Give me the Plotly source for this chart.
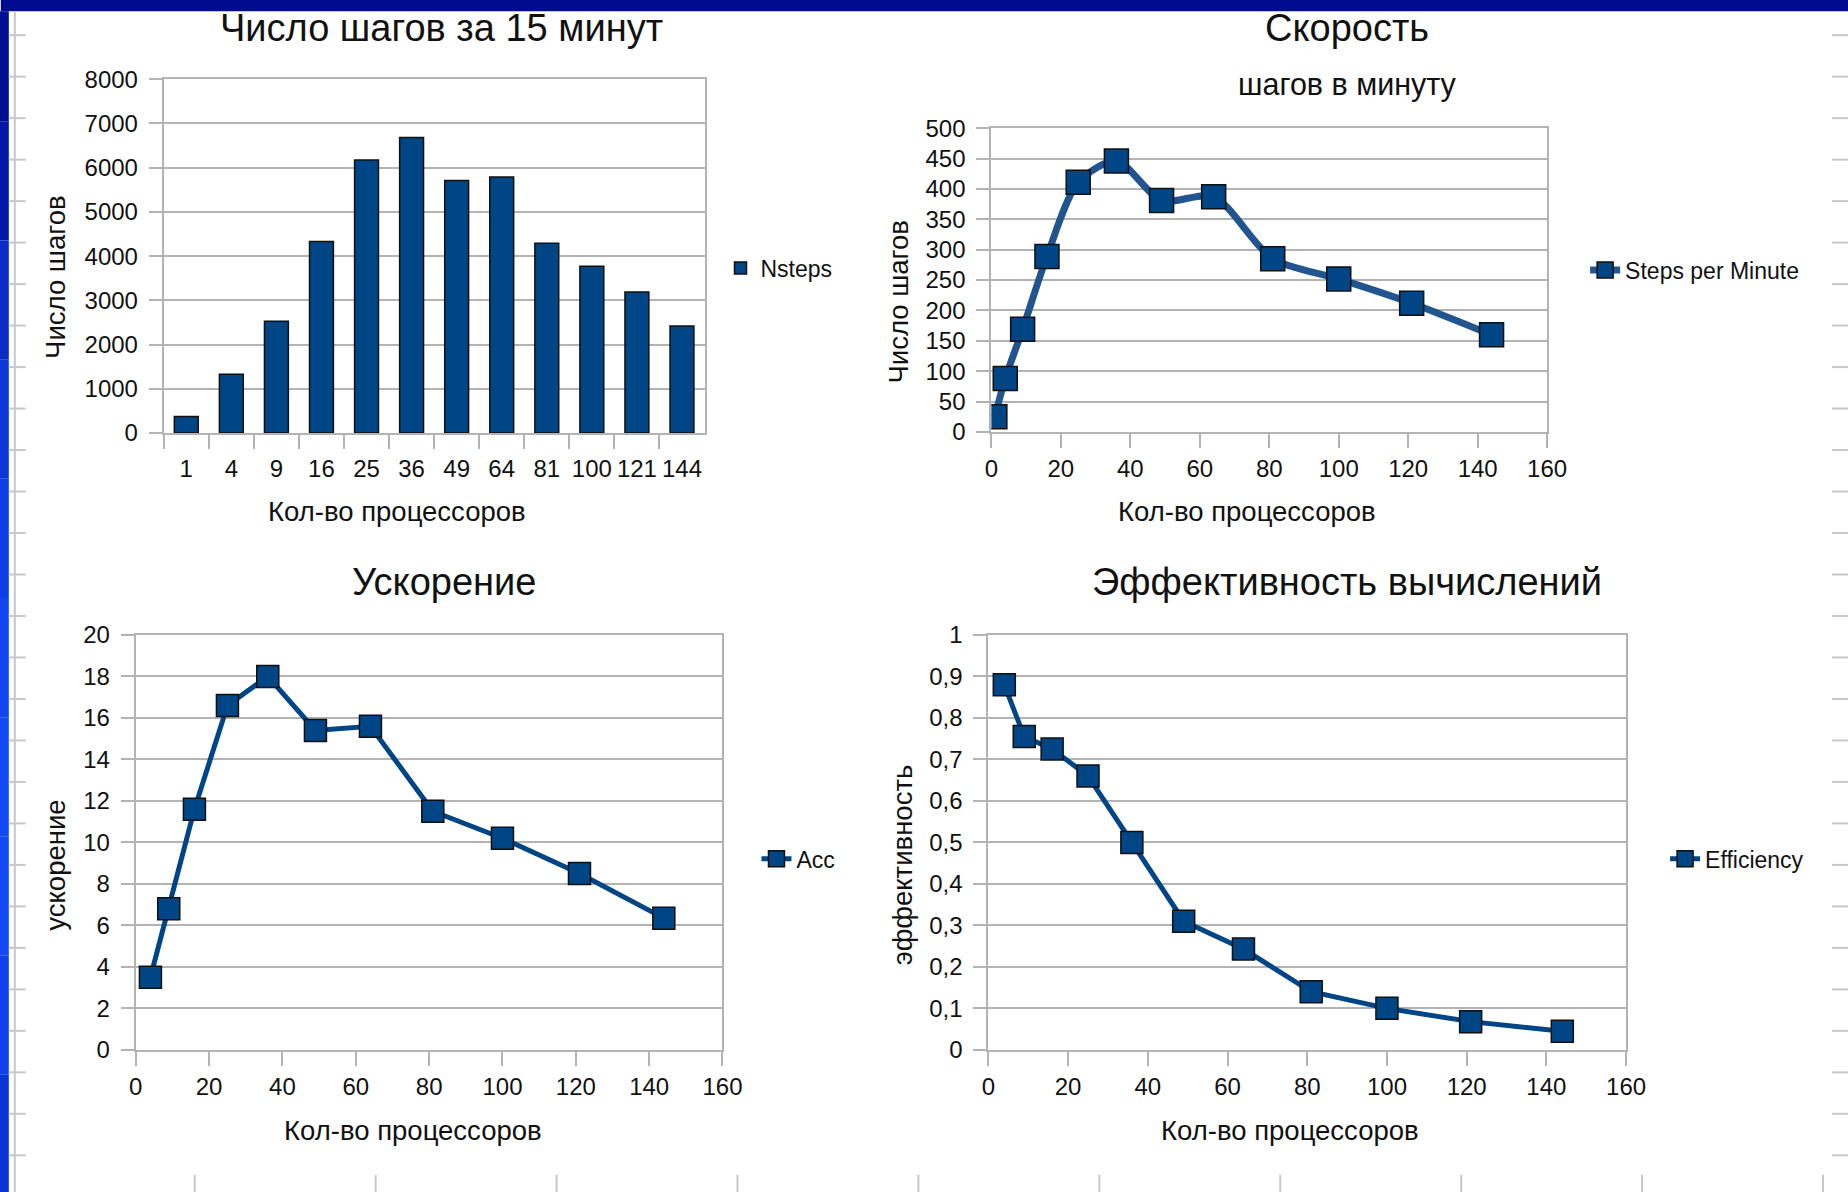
import plotly.graph_objects as go

# Figure canvas (sits inside the page's default 8px body margin)
PAGE_MARGIN = 8
FW, FH = 1870, 1210

# All positions below are given in screen pixels; the page is displayed with a
# slight zoom, so screen pixels are converted to figure pixels first.
SX, SY = 0.986, 0.978
OX, OY = -1.7, 4.0

# ---- data -------------------------------------------------------------
proc_labels = ["1", "4", "9", "16", "25", "36", "49", "64", "81", "100", "121", "144"]
nsteps = [375, 1330, 2530, 4330, 6170, 6680, 5710, 5790, 4290, 3770, 3190, 2420]

speed_procs = [1, 4, 9, 16, 25, 36, 49, 64, 81, 100, 121, 144]
speed = [25, 88, 169, 289, 411, 446, 381, 387, 285, 252, 212, 160]

acc_procs = [4, 9, 16, 25, 36, 49, 64, 81, 100, 121, 144]
acc = [3.5, 6.8, 11.6, 16.6, 18.0, 15.4, 15.6, 11.5, 10.2, 8.5, 6.35]

eff_procs = [4, 9, 16, 25, 36, 49, 64, 81, 100, 121, 144]
eff = [0.88, 0.755, 0.725, 0.66, 0.50, 0.31, 0.243, 0.14, 0.10, 0.068, 0.045]

eff_tickvals = [0, 0.1, 0.2, 0.3, 0.4, 0.5, 0.6, 0.7, 0.8, 0.9, 1.0]
eff_ticktext = ["0", "0,1", "0,2", "0,3", "0,4", "0,5", "0,6", "0,7", "0,8", "0,9", "1"]

# ---- styling ----------------------------------------------------------
FONT = "Liberation Sans, Arial, sans-serif"
BLUE = "#004586"
GRID = "#b3b3b3"
TXT = "#111111"


def square_marker(size):
    return dict(symbol="square", size=size, color=BLUE,
                line=dict(color="#101010", width=1.5))


def fx(cx):
    """screen x -> paper fraction"""
    return ((cx - OX) / SX - PAGE_MARGIN) / FW


def fy(cy):
    """screen y (from top) -> paper fraction"""
    return 1 - ((cy - OY) / SY - PAGE_MARGIN) / FH


fig = go.Figure()

fig.add_trace(go.Bar(
    x=proc_labels, y=nsteps, name="Nsteps", showlegend=True,
    marker=dict(color=BLUE, line=dict(color="#101010", width=1.5)),
    xaxis="x", yaxis="y", legend="legend",
))
fig.add_trace(go.Scatter(
    x=speed_procs, y=speed, name="Steps per Minute", mode="lines+markers", showlegend=True,
    line=dict(color="#22558f", width=7, shape="spline", smoothing=0.8),
    marker=square_marker(24), xaxis="x2", yaxis="y2", legend="legend2",
))
fig.add_trace(go.Scatter(
    x=acc_procs, y=acc, name="Acc", mode="lines+markers", showlegend=True,
    line=dict(color=BLUE, width=5),
    marker=square_marker(22), xaxis="x3", yaxis="y3", legend="legend3",
))
fig.add_trace(go.Scatter(
    x=eff_procs, y=eff, name="Efficiency", mode="lines+markers", showlegend=True,
    line=dict(color=BLUE, width=5),
    marker=square_marker(22), xaxis="x4", yaxis="y4", legend="legend4",
))

tickfont = dict(family=FONT, size=24, color=TXT)
common_axis = dict(
    showline=True, linecolor=GRID, linewidth=2, mirror=True,
    ticks="outside", tickcolor=GRID, tickwidth=2, ticklen=13,
    tickfont=tickfont, zeroline=False, fixedrange=True,
)


def xaxis(x0, x1, anchor, **kw):
    d = dict(common_axis)
    d.update(domain=[fx(x0), fx(x1)], anchor=anchor, showgrid=False,
             tickangle=0, ticklen=14)
    d.update(kw)
    return d


def yaxis(y_top, y_bot, anchor, **kw):
    d = dict(common_axis)
    d.update(domain=[fy(y_bot), fy(y_top)], anchor=anchor,
             showgrid=True, gridcolor=GRID, gridwidth=2, ticklabelstandoff=6)
    d.update(kw)
    return d


layout = dict(
    width=FW, height=FH, margin=dict(l=0, r=0, t=0, b=0),
    paper_bgcolor="white", plot_bgcolor="white",
    showlegend=True, bargap=0.47,
    xaxis=xaxis(163, 704, "y", type="category", tickson="boundaries",
                ticklabelstandoff=13),
    yaxis=yaxis(77, 431, "x", range=[0, 8000], dtick=1000),
    xaxis2=xaxis(991, 1547, "y2", range=[0, 160], dtick=20),
    yaxis2=yaxis(126, 430, "x2", range=[0, 500], dtick=50),
    xaxis3=xaxis(135, 722, "y3", range=[0, 160], dtick=20),
    yaxis3=yaxis(633, 1048, "x3", range=[0, 20], dtick=2),
    xaxis4=xaxis(988, 1626, "y4", range=[0, 160], dtick=20),
    yaxis4=yaxis(633, 1048, "x4", range=[0, 1], tickvals=eff_tickvals,
                 ticktext=eff_ticktext),
)

legend_font = dict(family=FONT, size=23, color=TXT)
for key, (lx, ly) in {"legend": (720, 266), "legend2": (1585, 268),
                      "legend3": (756, 857), "legend4": (1665, 857)}.items():
    layout[key] = dict(x=fx(lx), y=fy(ly), xanchor="left", yanchor="middle",
                       font=legend_font, bgcolor="rgba(0,0,0,0)", borderwidth=0,
                       itemwidth=30)

fig.update_layout(**layout)

# ---- titles -----------------------------------------------------------
def label(text, x, y, size, angle=0):
    fig.add_annotation(text=text, x=fx(x), y=fy(y), xref="paper", yref="paper",
                       xanchor="center", yanchor="middle", showarrow=False,
                       textangle=angle, font=dict(family=FONT, size=size, color=TXT))


label("Число шагов за 15 минут", 441, 26, 38)
label("Скорость", 1347, 26, 38)
label("шагов в минуту", 1347, 82, 30.5)
label("Ускорение", 443, 580, 38)
label("Эффективность вычислений", 1347, 580, 38)

for cx in (396, 1247):
    label("Кол-во процессоров", cx, 509, 27.5)
for cx in (412, 1290):
    label("Кол-во процессоров", cx, 1129, 27.5)

label("Число шагов", 54, 275, 27.5, -90)
label("Число шагов", 898, 300, 27.5, -90)
label("ускорение", 55, 863, 27.5, -90)
label("эффективность", 902, 863, 27.5, -90)

# ---- slide frame: top band, left strip and sheet row/column marks ------
SCREEN_W, SCREEN_H = 1848, 1192
shapes = [
    dict(type="rect", xref="paper", yref="paper", x0=fx(0), x1=fx(SCREEN_W),
         y0=fy(9), y1=fy(-20), fillcolor="#000c8e", line=dict(width=0), layer="above"),
]
strip_colors = ["#000e90", "#0018a6", "#0a2cc4", "#0c36d6", "#0e3ee6",
                "#1046f4", "#1249fa", "#1249fa", "#0e40ec", "#0a34d8"]
seg = SCREEN_H / len(strip_colors)
for i, c in enumerate(strip_colors):
    shapes.append(dict(type="rect", xref="paper", yref="paper", x0=fx(-20), x1=fx(8),
                       y0=fy((i + 1) * seg), y1=fy(max(i * seg, 9)), fillcolor=c,
                       line=dict(width=0), layer="above"))
shapes.append(dict(type="line", xref="paper", yref="paper", x0=fx(14), x1=fx(14),
                   y0=fy(SCREEN_H), y1=fy(9), line=dict(color="#c8c8c8", width=2)))
row_y = 33
while row_y < SCREEN_H:
    for x0, x1 in ((8, 25), (1832, SCREEN_W)):
        shapes.append(dict(type="line", xref="paper", yref="paper", x0=fx(x0), x1=fx(x1),
                           y0=fy(row_y), y1=fy(row_y), line=dict(color="#c8c8c8", width=2)))
    row_y += 41.5
col_x = 194
while col_x < SCREEN_W:
    shapes.append(dict(type="line", xref="paper", yref="paper", x0=fx(col_x), x1=fx(col_x),
                       y0=fy(SCREEN_H), y1=fy(1173), line=dict(color="#c8c8c8", width=2)))
    col_x += 181
fig.update_layout(shapes=shapes)

fig.write_html("out.html")
